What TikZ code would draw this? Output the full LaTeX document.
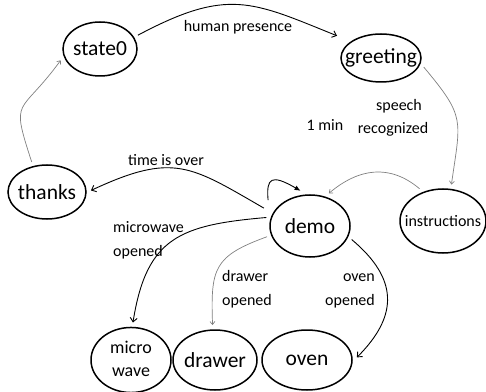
\documentclass[tikz,border=0pt]{standalone}
\usepackage{fontspec}
\setmainfont{Carlito}
\usetikzlibrary{shapes.geometric,arrows.meta}

\newcommand{\nodetxt}[1]{\makebox[0pt]{#1}}

\tikzset{
	state/.style={shape=ellipse, draw, line width=1.5pt, inner sep=0pt, outer sep=5pt,
		minimum width=80pt, minimum height=50pt, font=\fontsize{21.5}{26}\selectfont},
	lbl/.style={inner sep=0pt, font=\fontsize{16}{24}\selectfont},
	trans/.style={-{Straight Barb[length=4pt,width=7pt]}, line width=0.9pt},
	weak/.style={-{Straight Barb[length=3pt,width=5pt]}, gray, line width=0.7pt},
}

\begin{document}
\begin{tikzpicture}[x=1pt, y=1pt]
	\useasboundingbox (0,0) rectangle (486,391);

	\node[state, minimum width=74pt, minimum height=54pt] (state0) at (100,342) {\nodetxt{state0}};
	\node[state, minimum width=80pt, minimum height=48pt] (greeting) at (381,333) {\nodetxt{greeting}};
	\node[state, minimum width=78pt, minimum height=54pt] (thanks) at (47,199) {\nodetxt{thanks}};
	\node[state, minimum width=80pt, minimum height=62pt] (demo) at (310,165) {\nodetxt{demo}};
	\node[state, minimum width=86pt, minimum height=64pt, font=\fontsize{16}{20}\selectfont] (instructions) at (443,170) {\nodetxt{instructions}};
	\node[state, minimum width=80pt, minimum height=60pt, font=\fontsize{18}{23}\selectfont] (micro) at (131,31) {\nodetxt{\begin{tabular}{@{}c@{}}micro\\wave\end{tabular}}};
	\node[state, minimum width=84pt, minimum height=60pt] (drawer) at (215,31) {\nodetxt{drawer}};
	\node[state, minimum width=90pt, minimum height=60pt] (oven) at (307,31) {\nodetxt{oven}};

	\path [trans] (state0.20) edge[out=28, in=158, looseness=1.25, shorten >=10pt] (greeting.152);
	\path [weak] (greeting.-12) edge[out=-50, in=82, looseness=1.4] (instructions.77);
	\path [weak] (instructions.126) edge[out=140, in=40, looseness=1.1] (demo.60);
	\path [trans] (demo.160) edge[out=95, in=150, looseness=2.3, shorten <=11pt, -{Latex[length=6pt,width=5pt]}] (demo.105);
	\path [trans] (demo.160) edge[out=150, in=25, looseness=1.3, shorten <=6pt] (thanks.2);
	\path [weak] (thanks.117) edge[out=108, in=234, looseness=1.7] (state0.196);
	\path [trans] (demo.169) edge[out=185, in=81, looseness=1.3] (micro.87);
	\path [weak] (demo.194) edge[out=200, in=92, looseness=1.4] (drawer.94);
	\path [trans] (demo.-18) edge[out=-40, in=45, looseness=1.3] (oven.3);

	\node[lbl] (lhuman) at (238,364) {human presence};
	\node[lbl] (lspeech) at (399,285) {speech};
	\node[lbl] (lrecog) at (393,262) {recognized};
	\node[lbl] (lmin) at (325,266) {1 min};
	\node[lbl] (ltime) at (166,231) {time is over};
	\node[lbl, align=left, anchor=west] (lmicro) at (113,151) {microwave\\opened};
	\node[lbl, align=left, anchor=west] (ldrawer) at (222,102) {drawer\\opened};
	\node[lbl, align=right, anchor=east] (loven) at (375,100) {oven\\opened};
\end{tikzpicture}
\end{document}
